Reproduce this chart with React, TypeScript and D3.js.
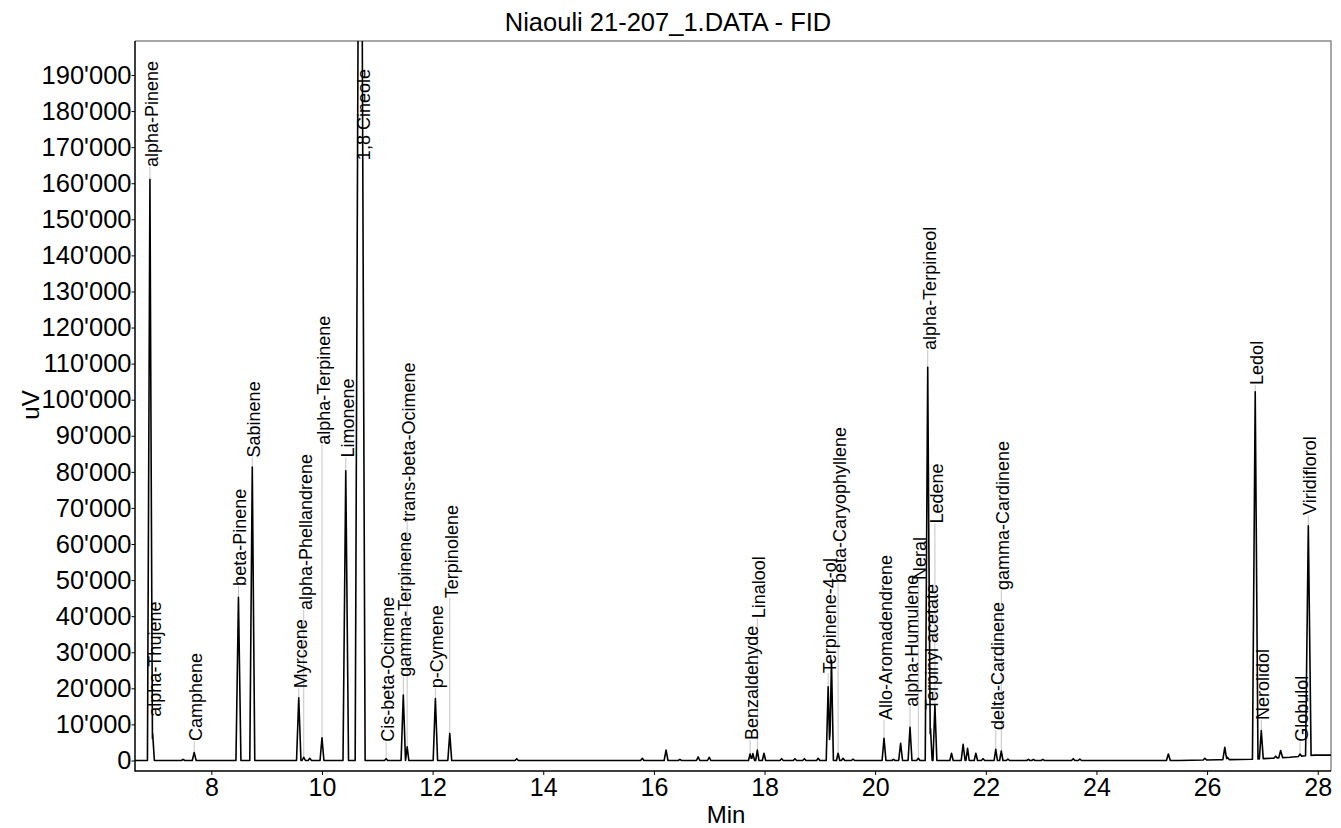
import React, { useEffect, useRef } from 'react';
import * as d3 from 'd3';

const W = 1341;
const H = 828;
const FONT = "'Liberation Sans', Arial, Helvetica, sans-serif";

const chartTitle = 'Niaouli 21-207_1.DATA - FID';
const xTitle = 'Min';
const yTitle = 'uV';

const xTicks = [8, 10, 12, 14, 16, 18, 20, 22, 24, 26, 28];
const yTicks = [0, 10000, 20000, 30000, 40000, 50000, 60000, 70000, 80000, 90000, 100000, 110000, 120000, 130000, 140000, 150000, 160000, 170000, 180000, 190000];

// Peak table (retention time in min, height above baseline in uV, half width at base in min)
const peakTimes = [6.89, 6.94, 7.49, 7.69, 8.49, 8.74, 9.58, 9.67, 9.78, 10.0, 10.43, 10.69, 11.16, 11.47, 11.54, 12.05, 12.31, 13.52, 15.79, 16.22, 16.47, 16.8, 17.0, 17.74, 17.79, 17.87, 17.99, 18.31, 18.55, 18.72, 18.97, 19.15, 19.21, 19.33, 19.42, 19.6, 20.16, 20.33, 20.46, 20.63, 20.78, 20.95, 21.0, 21.08, 21.38, 21.59, 21.67, 21.82, 21.95, 22.18, 22.28, 22.4, 22.77, 22.86, 23.03, 23.58, 23.7, 25.3, 25.96, 26.32, 26.37, 26.87, 26.98, 27.24, 27.33, 27.68, 27.83];
const peakHeights = [161000, 7300, 300, 2200, 45200, 81300, 17400, 900, 600, 6300, 80300, 350000, 500, 18150, 3800, 17200, 7500, 500, 600, 2900, 300, 1000, 900, 1800, 1900, 2900, 2000, 500, 500, 500, 600, 20450, 27800, 2000, 600, 400, 6150, 300, 4750, 9200, 600, 109000, 8900, 15400, 2000, 4500, 3400, 2000, 500, 3100, 2650, 400, 300, 300, 300, 500, 400, 1800, 500, 3400, 600, 101800, 7800, 500, 2000, 600, 63700];
const peakHalfWidths = [0.045, 0.03, 0.03, 0.035, 0.045, 0.045, 0.04, 0.03, 0.03, 0.035, 0.05, 0.09, 0.03, 0.04, 0.03, 0.04, 0.035, 0.03, 0.03, 0.035, 0.03, 0.03, 0.03, 0.03, 0.03, 0.03, 0.03, 0.03, 0.03, 0.03, 0.03, 0.035, 0.035, 0.03, 0.03, 0.03, 0.035, 0.03, 0.035, 0.035, 0.03, 0.045, 0.03, 0.035, 0.03, 0.035, 0.03, 0.03, 0.03, 0.03, 0.03, 0.03, 0.03, 0.03, 0.03, 0.03, 0.03, 0.035, 0.03, 0.035, 0.03, 0.05, 0.035, 0.03, 0.035, 0.03, 0.05];

// Baseline drift
const baselineTimes = [6.6, 25.5, 26.2, 26.8, 27.0, 27.5, 27.7, 27.95, 28.3];
const baselineValues = [0, 0, 200, 350, 500, 900, 1200, 1500, 1500];

// Peak annotations
const labelNames = ['alpha-Pinene', 'alpha-Thujene', 'Camphene', 'beta-Pinene', 'Sabinene', 'Myrcene', 'alpha-Phellandrene', 'alpha-Terpinene', 'Limonene', '1,8 Cineole', 'Cis-beta-Ocimene', 'gamma-Terpinene', 'trans-beta-Ocimene', 'p-Cymene', 'Terpinolene', 'Benzaldehyde', 'Linalool', 'Terpinene-4-ol', 'beta-Caryophyllene', 'Allo-Aromadendrene', 'alpha-Humulene', 'Neral', 'alpha-Terpineol', 'Terpinyl acetate', 'Ledene', 'delta-Cardinene', 'gamma-Cardinene', 'Ledol', 'Nerolidol', 'Globulol', 'Viridiflorol'];
const labelTimes = [6.89, 6.94, 7.69, 8.49, 8.74, 9.58, 9.67, 10.0, 10.43, 10.73, 11.16, 11.47, 11.54, 12.05, 12.31, 17.74, 17.87, 19.15, 19.33, 20.16, 20.63, 20.78, 20.95, 21.0, 21.08, 22.18, 22.28, 26.87, 26.98, 27.68, 27.83];
const labelLevels = [164500, 12150, 5400, 48400, 84000, 20000, 41700, 87500, 84000, 166400, 5200, 23200, 66200, 20000, 45000, 5700, 39400, 24200, 49200, 11200, 14900, 50000, 113800, 14000, 65700, 8450, 47250, 104100, 11200, 5200, 68050];

const fmt = d3
  .formatLocale({ decimal: '.', thousands: "'", grouping: [3], currency: ['', ''] })
  .format(',');

function baselineAt(t: number): number {
  for (let i = 0; i < baselineTimes.length - 1; i++) {
    const t0 = baselineTimes[i];
    const t1 = baselineTimes[i + 1];
    if (t >= t0 && t <= t1) {
      const f = (t - t0) / (t1 - t0);
      return baselineValues[i] + f * (baselineValues[i + 1] - baselineValues[i]);
    }
  }
  return baselineValues[baselineValues.length - 1];
}

function signalAt(t: number): number {
  let v = baselineAt(t);
  for (let i = 0; i < peakTimes.length; i++) {
    const d = Math.abs(t - peakTimes[i]);
    if (d < peakHalfWidths[i]) v += peakHeights[i] * (1 - d / peakHalfWidths[i]);
  }
  return v;
}

export default function App() {
  const ref = useRef<SVGSVGElement>(null);

  useEffect(() => {
    const svg = d3.select(ref.current);
    svg.selectAll('*').remove();

    const left = 135;
    const right = 1331;
    const top = 41;
    const bottom = 771;

    const x = d3.scaleLinear().domain([6.62, 28.24]).range([left, right]);
    const y = d3.scaleLinear().domain([-2910, 199420]).range([bottom, top]);

    svg.append('rect').attr('width', W).attr('height', H).attr('fill', '#fff');

    svg
      .append('defs')
      .append('clipPath')
      .attr('id', 'plotclip')
      .append('rect')
      .attr('x', left)
      .attr('y', top)
      .attr('width', right - left)
      .attr('height', bottom - top);

    // title
    svg
      .append('text')
      .attr('x', 668)
      .attr('y', 31)
      .attr('text-anchor', 'middle')
      .attr('font-family', FONT)
      .attr('font-size', 25.5)
      .attr('fill', '#000')
      .text(chartTitle);

    // frame top / right
    svg
      .append('path')
      .attr('d', `M${left},${top}H${right}V${bottom}`)
      .attr('fill', 'none')
      .attr('stroke', '#8a8a8a')
      .attr('stroke-width', 1.5);

    // trace points
    const keySet = new Set<number>();
    baselineTimes.forEach((t) => keySet.add(t));
    peakTimes.forEach((t, i) => {
      keySet.add(t - peakHalfWidths[i]);
      keySet.add(t);
      keySet.add(t + peakHalfWidths[i]);
    });
    const keys = Array.from(keySet).sort((a, b) => a - b);
    const trace: [number, number][] = keys.map((t) => [t, signalAt(t)]);

    const plot = svg.append('g').attr('clip-path', 'url(#plotclip)');

    // label connector lines (drawn before trace)
    const labelsG = svg.append('g');
    labelNames.forEach((name, i) => {
      const t = labelTimes[i];
      const px = x(t);
      const apex = signalAt(t);
      const ly = y(labelLevels[i]);
      const txt = labelsG
        .append('text')
        .attr('transform', `translate(${px + 8},${ly}) rotate(-90)`)
        .attr('font-family', FONT)
        .attr('font-size', 18)
        .attr('fill', '#000')
        .text(name);
      const len = (txt.node() as SVGTextElement).getComputedTextLength();
      let y1: number;
      let y2: number;
      if (apex >= labelLevels[i] && apex > 100000) {
        // off-scale peak: connector from label end upward
        y1 = ly - len - 12;
        y2 = Math.max(top, y(apex));
      } else {
        y1 = ly;
        y2 = y(Math.max(apex, 0));
      }
      plot
        .append('line')
        .attr('x1', px)
        .attr('x2', px)
        .attr('y1', y1)
        .attr('y2', y2)
        .attr('stroke', '#c4c4c4')
        .attr('stroke-width', 1);
    });

    const line = d3
      .line<[number, number]>()
      .x((d) => x(d[0]))
      .y((d) => y(d[1]));

    plot
      .append('path')
      .attr('d', line(trace) as string)
      .attr('fill', 'none')
      .attr('stroke', '#000')
      .attr('stroke-width', 1.6)
      .attr('stroke-linejoin', 'round');

    labelsG.raise();

    // Y axis
    const yMinor = d3.range(-2000, 199001, 2000).filter((v) => v % 10000 !== 0);
    const yAxisG = svg.append('g').attr('transform', `translate(${left},0)`);
    yAxisG.call(
      d3
        .axisLeft(y)
        .tickValues(yMinor)
        .tickSize(2)
        .tickSizeOuter(0)
        .tickFormat(() => '')
    );
    yAxisG.call(
      d3
        .axisLeft(y)
        .tickValues(yTicks)
        .tickSize(3.5)
        .tickSizeOuter(0)
        .tickPadding(0)
        .tickFormat((d) => fmt(d as number))
    );
    yAxisG.selectAll('.domain').remove();
    yAxisG
      .selectAll('text')
      .attr('font-family', FONT)
      .attr('font-size', 25.5)
      .attr('fill', '#000');
    yAxisG.selectAll('line').attr('stroke', '#000');

    // X axis
    const xMinor = d3.range(6.8, 28.25, 0.4).filter((v) => Math.abs(v / 2 - Math.round(v / 2)) > 0.01);
    const xAxisG = svg.append('g').attr('transform', `translate(0,${bottom})`);
    xAxisG.call(
      d3
        .axisBottom(x)
        .tickValues(xMinor)
        .tickSize(2.5)
        .tickSizeOuter(0)
        .tickFormat(() => '')
    );
    xAxisG.call(
      d3
        .axisBottom(x)
        .tickValues(xTicks)
        .tickSize(4)
        .tickSizeOuter(0)
        .tickPadding(3)
        .tickFormat((d) => String(d))
    );
    xAxisG.selectAll('.domain').remove();
    xAxisG
      .selectAll('text')
      .attr('font-family', FONT)
      .attr('font-size', 25)
      .attr('fill', '#000');
    xAxisG.selectAll('line').attr('stroke', '#000');

    // axis lines
    svg
      .append('path')
      .attr('d', `M${left},${top}V${bottom}H${right}`)
      .attr('fill', 'none')
      .attr('stroke', '#000')
      .attr('stroke-width', 1.5);

    // axis titles
    svg
      .append('text')
      .attr('x', 726)
      .attr('y', 823)
      .attr('text-anchor', 'middle')
      .attr('font-family', FONT)
      .attr('font-size', 24)
      .attr('fill', '#000')
      .text(xTitle);
    svg
      .append('text')
      .attr('transform', `translate(39,405) rotate(-90)`)
      .attr('text-anchor', 'middle')
      .attr('font-family', FONT)
      .attr('font-size', 24)
      .attr('fill', '#000')
      .text(yTitle);
  }, []);

  return (
    <svg
      ref={ref}
      width={W}
      height={H}
      style={{ position: 'absolute', left: 0, top: 0, display: 'block' }}
    />
  );
}
